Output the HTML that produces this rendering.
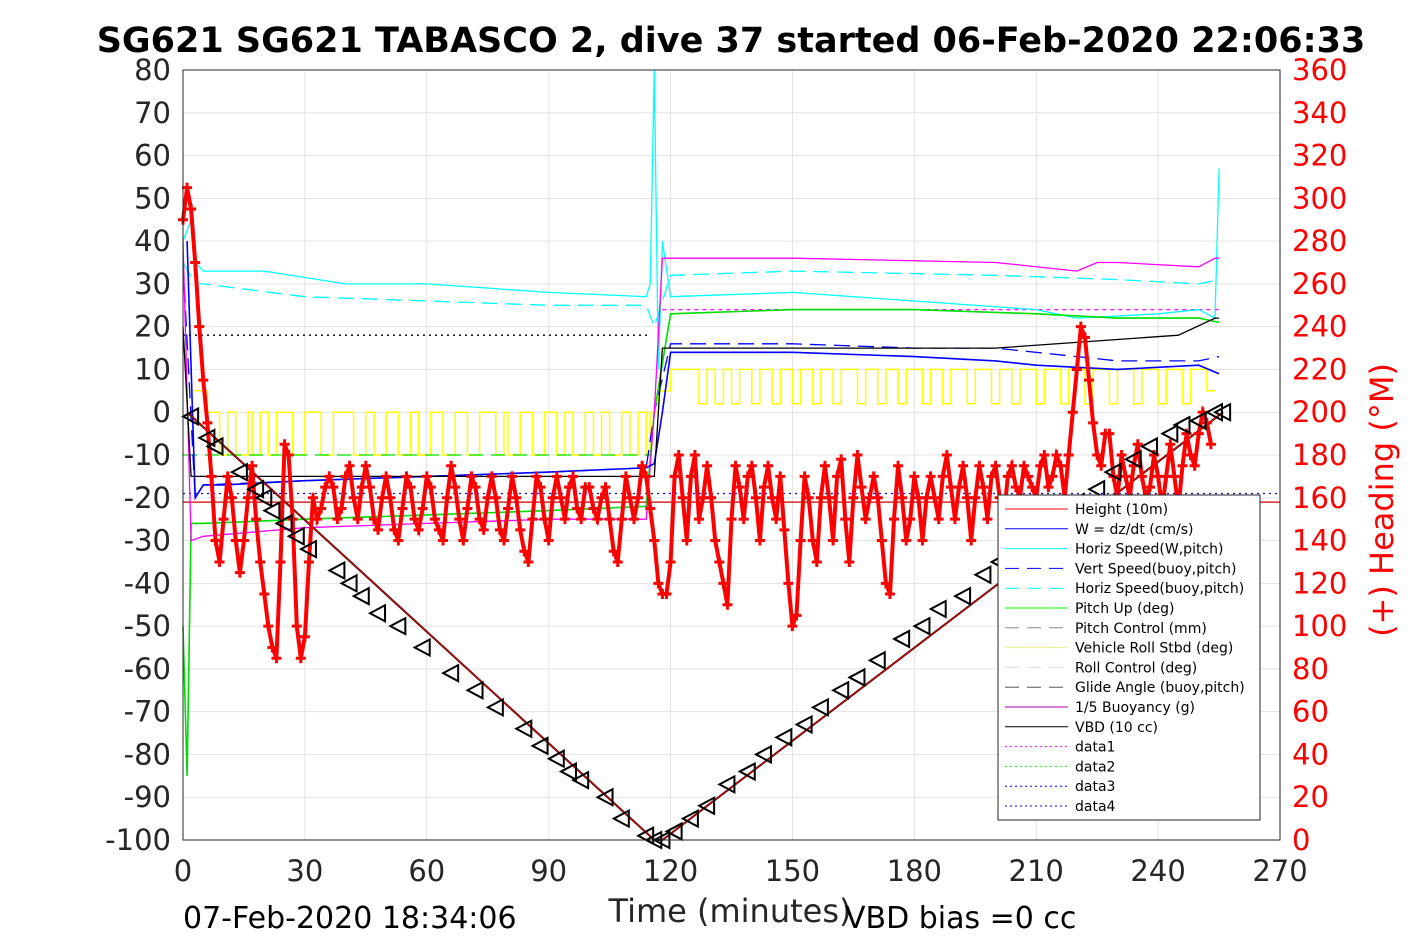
<!DOCTYPE html>
<html><head><meta charset="utf-8"><style>
body{margin:0;background:#fff}
svg{display:block;font-family:"DejaVu Sans","Liberation Sans",sans-serif}
</style></head><body>
<svg id="c" width="1417" height="945" viewBox="0 0 1417 945">
<rect width="1417" height="945" fill="#fff"/>
<text x="731" y="52" text-anchor="middle" font-size="35" font-weight="bold">SG621 SG621 TABASCO 2, dive 37 started 06-Feb-2020 22:06:33</text>
<g id="grid"></g>
<g id="series"></g>
<rect x="183" y="70" width="1097" height="770" fill="none" stroke="#262626" stroke-width="1"/>
<g id="axes"></g>
<text x="730" y="922" text-anchor="middle" font-size="32" fill="#262626">Time (minutes)</text>
<text x="183" y="928" font-size="30" fill="#000">07-Feb-2020 18:34:06</text>
<text x="845" y="928" font-size="30" fill="#000">VBD bias =0 cc</text>
<text transform="translate(1393,500) rotate(-90)" text-anchor="middle" font-size="32" fill="#f00">(+) Heading (°M)</text>
<g id="legend"></g>
</svg>
<script>
const xTicks=[0,30,60,90,120,150,180,210,240,270];
const yTicks=[80,70,60,50,40,30,20,10,0,-10,-20,-30,-40,-50,-60,-70,-80,-90,-100];
const rTicks=[360,340,320,300,280,260,240,220,200,180,160,140,120,100,80,60,40,20,0];
const wT=[1,3,5,10,30,60,90,114,116,118,120,150,180,200,210,230,250,255];
const wV=[40,-20,-17,-17,-16,-15,-14,-13,-12,0,14,14,13,12,11,10,11,9];
const hsT=[0,2,3,5,20,40,60,90,114,115,116,117,118,120,150,180,210,220,240,250,254,255];
const hsV=[40,45,35,33,33,30,30,28,27,30,80,10,40,27,28,26,24,22,23,24,22,57];
const vsT=[0,3,5,30,60,90,114,116,120,150,180,200,230,250,255];
const vsV=[35,-20,-17,-16,-15,-14,-13,0,16,16,15,15,12,12,13];
const hbT=[0,3,5,30,60,90,114,116,120,150,200,230,250,255];
const hbV=[35,30,30,27,26,25,25,20,32,33,32,31,30,31];
const pT=[0,1,2,5,30,60,90,114,116,120,150,180,210,230,250,255];
const pV=[-50,-85,-26,-26,-25,-24,-23,-22,0,23,24,24,23,22,22,21];
const bT=[0,2,5,30,60,90,114,116,118,150,200,220,225,230,250,254,255];
const bV=[40,-30,-29,-27,-26,-25,-25,0,36,36,35,33,35,35,34,36,36];
const vbdT=[0,2,5,114,116,118,150,200,230,245,254,255];
const vbdV=[20,-15,-15,-15,-15,15,15,15,17,18,22,22];
const rollT=[2,6,9,11,13,16,17,19,21,23,27,30,34,37,42,45,47,50,53,56,58,61,64,67,70,73,77,79,80,83,86,89,92,94,96,99,101,103,105,108,110,112,114,115,117,120,127,129,131,133,135,137,140,142,145,147,150,152,155,157,160,162,166,168,171,173,176,178,182,184,187,189,193,195,199,201,204,206,210,212,216,218,222,224,228,230,234,236,240,242,246,248,252,254,255];
const rollV=[5,0,-10,0,-10,0,-10,0,-10,0,-10,0,-10,0,-10,0,-10,0,-10,0,-10,0,-10,0,-10,0,-10,0,-10,0,-10,0,-10,0,-10,0,-10,0,-10,0,-10,0,-10,0,5,10,2,10,2,10,2,10,2,10,2,10,2,10,2,10,2,10,2,10,2,10,2,10,2,10,2,10,2,10,2,10,2,10,2,10,2,10,2,10,2,10,2,10,2,10,2,10,5];
const depthT=[1,116,118,256];
const depthV=[0,-100,-100,0];
const mkT=[2,6,8,14,18,20,22,25,28,31,38,41,44,48,53,59,66,72,77,84,88,92,95,98,104,108,114,116,118,121,125,129,134,139,143,148,153,157,162,166,171,177,182,186,192,197,201,205,210,215,220,225,229,234,238,243,246,250,254,256];
const mkV=[-1,-6,-8,-14,-18,-20,-23,-26,-29,-32,-37,-40,-43,-47,-50,-55,-61,-65,-69,-74,-78,-81,-84,-86,-90,-95,-99,-100,-100,-98,-95,-92,-87,-84,-80,-76,-73,-69,-65,-62,-58,-53,-50,-46,-43,-38,-35,-31,-28,-24,-21,-18,-14,-11,-8,-5,-3,-2,0,0];
const hdT=[];for(let i=0;i<=253;i++)hdT.push(i);
const hdV=[290,305,295,270,240,215,195,170,140,130,150,170,160,140,125,140,160,175,150,130,115,100,90,85,130,185,180,150,100,85,95,130,160,150,155,165,170,165,150,155,170,175,160,150,165,175,165,150,145,160,170,160,145,140,155,170,165,150,145,155,170,165,150,145,140,160,175,165,150,140,155,170,165,150,145,160,170,160,145,140,155,170,160,145,135,130,150,170,165,150,140,160,170,160,150,165,170,155,150,165,165,155,150,160,165,150,135,130,150,170,160,150,160,175,170,155,140,120,115,115,130,170,180,160,140,170,180,150,160,175,160,140,130,120,110,150,175,165,150,170,175,160,140,165,175,160,150,170,145,120,100,105,140,170,160,140,130,160,175,160,140,170,178,150,130,160,180,165,150,160,170,160,140,120,115,150,175,160,140,150,170,160,140,160,170,160,150,170,180,165,150,165,175,160,140,160,175,165,150,170,175,160,150,170,175,165,160,175,170,165,160,175,180,165,170,180,175,160,180,200,220,240,235,215,195,180,175,190,190,170,160,180,170,160,175,185,170,160,165,180,170,155,170,185,170,155,175,190,180,175,190,200,195,185];
const legendNames=["Height (10m)","W = dz/dt (cm/s)","Horiz Speed(W,pitch)","Vert Speed(buoy,pitch)","Horiz Speed(buoy,pitch)","Pitch Up (deg)","Pitch Control (mm)","Vehicle Roll Stbd (deg)","Roll Control (deg)","Glide Angle (buoy,pitch)","1/5 Buoyancy (g)","VBD (10 cc)","data1","data2","data3","data4"];
const legendColors=["#f00","#00f","#0ff","#00f","#0ff","#0f0","#888","#ee8","#ddd","#555","#a0a","#000","#f0f","#0f0","#00f","#00f"];
const legendDash=["","","","14,8","14,8","","14,8","","14,8","14,8","","","2,3","2,3","2,3","2,3"];

const NS="http://www.w3.org/2000/svg";
const X=t=>183+t*1097/270, Y=v=>70+(80-v)*770/180, YR=h=>840-h*770/360;
function mk(tag,attrs,parent){const e=document.createElementNS(NS,tag);for(const k in attrs)e.setAttribute(k,attrs[k]);parent.appendChild(e);return e;}
const grid=document.getElementById('grid'),axes=document.getElementById('axes'),ser=document.getElementById('series'),leg=document.getElementById('legend');
xTicks.forEach(t=>{const l=mk('line',{x1:X(t),x2:X(t),y1:70,y2:840,stroke:'#e3e3e3'},grid);

const tx=mk('text',{x:X(t),y:881,'text-anchor':'middle','font-size':29,fill:'#262626'},axes);tx.textContent=t;
});
yTicks.forEach(v=>{const l=mk('line',{x1:183,x2:1280,y1:Y(v),y2:Y(v),stroke:'#e3e3e3'},grid);

const tx=mk('text',{x:171,y:Y(v)+10,'text-anchor':'end','font-size':29,fill:'#262626'},axes);tx.textContent=v;
});
rTicks.forEach(h=>{const tx=mk('text',{x:1292,y:YR(h)+10,'font-size':29,fill:'#f00'},axes);tx.textContent=h;
});
function line(T,V,color,dash,name,w){const p=T.map((t,i)=>X(t).toFixed(1)+','+Y(V[i]).toFixed(1)).join(' ');
const e=mk('polyline',{points:p,fill:'none',stroke:color,'stroke-width':w||1.3,'stroke-dasharray':dash||'none'},ser);
}
function step(T,V,color,name){let d='';T.forEach((t,i)=>{const x=X(t).toFixed(1),y=Y(V[i]).toFixed(1);d+=(i?`H${x}V${y}`:`M${x},${y}`);});
const e=mk('path',{d:d,fill:'none',stroke:color,'stroke-width':1.5},ser);
}
step(rollT,rollV,'#ff0','roll-line');
line([0,115],[18,18],'#000','2,4','vbd-reference-dotted');
line([0,115],[-10,-10],'#0d0','14,8','pitch-reference');
line([0,270],[-19,-19],'#00f','2,4','data3-line');
line([0,270],[-21,-21],'#c00','','glide-reference');
line([118,255],[24,24],'#f0f','4,4','data1-line');
line(hbT,hbV,'#0ff','16,8','horiz-speed-buoy-line');
line(hsT,hsV,'#0ff','','horiz-speed-line');
line(vsT,vsV,'#00f','16,8','vert-speed-buoy-line');
line(pT,pV,'#0d0','','pitch-line',1.6);
line(bT,bV,'#f0f','','buoyancy-line');
line(wT,wV,'#00f','','w-line',1.6);
line(vbdT,vbdV,'#000','','vbd-line');
line(depthT,depthV,'#000','','depth-line',2);
line(depthT,depthV,'#f00','','height-line',1);
const hp=hdT.map((t,i)=>X(t).toFixed(1)+','+YR(hdV[i]).toFixed(1)).join(' ');
const hl=mk('polyline',{points:hp,fill:'none',stroke:'#f00','stroke-width':4},ser);


hdT.forEach((t,i)=>{const x=X(t),y=YR(hdV[i]);
const e=mk('path',{d:`M${x-5},${y}H${x+5}M${x},${y-5}V${y+5}`,stroke:'#f00','stroke-width':3,fill:'none'},ser);
});
mkT.forEach((t,i)=>{const x=X(t),y=Y(mkV[i]);
const e=mk('path',{d:`M${x-8},${y}L${x+7},${y-8}L${x+7},${y+8}Z`,stroke:'#000','stroke-width':2,fill:'none'},ser);
});
const box=mk('rect',{x:998,y:495,width:262,height:325,fill:'#fff',stroke:'#262626'},leg);

legendNames.forEach((n,i)=>{const y=509+i*19.8;
const l=mk('line',{x1:1005,x2:1068,y1:y,y2:y,stroke:legendColors[i],'stroke-width':1,'stroke-dasharray':legendDash[i]||'none'},leg);

const tx=mk('text',{x:1075,y:y+5,'font-size':14,fill:'#000'},leg);tx.textContent=n;
});
</script>
</body></html>
